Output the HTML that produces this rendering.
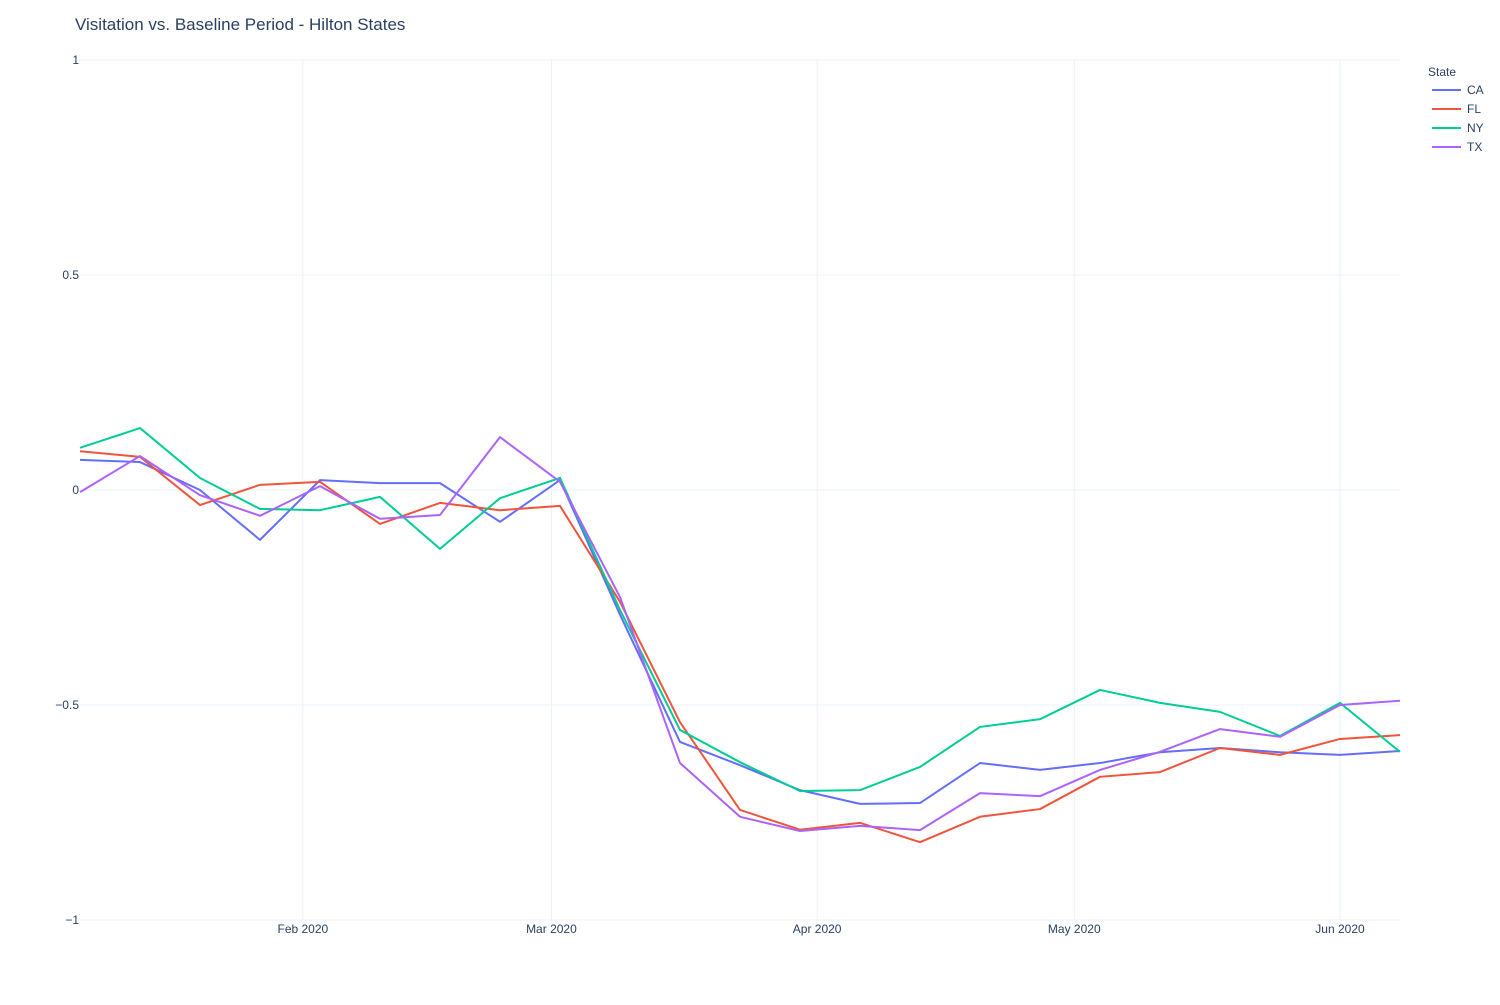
<!DOCTYPE html>
<html><head><meta charset="utf-8"><style>
body{margin:0;background:#fff;font-family:"Liberation Sans",Arial,sans-serif;}
svg text{font-family:"Liberation Sans",Arial,sans-serif;fill:#2a3f5f;}
</style></head><body>
<svg id="chart" width="1500" height="1000" xmlns="http://www.w3.org/2000/svg">
<rect width="1500" height="1000" fill="#fff"/>
<text x="75" y="30" font-size="17">Visitation vs. Baseline Period - Hilton States</text>
<g id="grid"></g><g id="series"></g><g id="axes"></g>
<g>
<text x="1428" y="76" font-size="12">State</text>
<g id="legend"></g>
</g>
</svg>
<script>
const states = ["CA","FL","NY","TX"];
const colors = ["#636efa","#EF553B","#00cc96","#ab63fa"];
const weekOffsets = [0,7,14,21,28,35,42,49,56,63,70,77,84,91,98,105,112,119,126,133,140,147,154]; // days since 2020-01-06
const caValues = [0.07,0.065,0,-0.116,0.023,0.016,0.016,-0.074,0.023,-0.29,-0.586,-0.64,-0.698,-0.73,-0.728,-0.635,-0.651,-0.635,-0.61,-0.6,-0.61,-0.616,-0.607];
const flValues = [0.09,0.077,-0.035,0.012,0.019,-0.079,-0.03,-0.047,-0.037,-0.26,-0.54,-0.744,-0.79,-0.774,-0.819,-0.76,-0.742,-0.667,-0.656,-0.6,-0.616,-0.579,-0.57];
const nyValues = [0.098,0.144,0.028,-0.044,-0.047,-0.016,-0.137,-0.019,0.028,-0.279,-0.558,-0.633,-0.7,-0.698,-0.644,-0.551,-0.533,-0.465,-0.495,-0.516,-0.572,-0.495,-0.609];
const txValues = [-0.005,0.079,-0.012,-0.06,0.009,-0.067,-0.058,0.123,0.019,-0.249,-0.635,-0.76,-0.793,-0.781,-0.791,-0.705,-0.712,-0.651,-0.609,-0.556,-0.574,-0.5,-0.49];
const yTicks = [1,0.5,0,-0.5,-1];
const yTickLabels = ["1","0.5","0","\u22120.5","\u22121"];
const xTickDays = [26,55,86,116,147];
const xTickLabels = ["Feb 2020","Mar 2020","Apr 2020","May 2020","Jun 2020"];
const series = [caValues,flValues,nyValues,txValues];

const X0=80,X1=1400,Y0=60,Y1=920;
const xs=d=>X0+(d-0)*(X1-X0)/154;
const ys=v=>Y0+(1-v)*(Y1-Y0)/2;
const NS="http://www.w3.org/2000/svg";
function mk(tag,parent){const e=document.createElementNS(NS,tag);parent.appendChild(e);return e;}
const grid=document.getElementById('grid'),axes=document.getElementById('axes'),sg=document.getElementById('series'),lg=document.getElementById('legend');
yTicks.forEach((t,i)=>{
  const l=mk('line',grid);
  
  
  l.setAttribute('x1',X0);l.setAttribute('x2',X1);l.setAttribute('y1',ys(t));l.setAttribute('y2',ys(t));
  l.setAttribute('stroke','#ebf0f8');l.setAttribute('stroke-width',1);
  const tx=mk('text',axes);
  
  
  tx.setAttribute('x',X0-1);tx.setAttribute('y',ys(t)+4);tx.setAttribute('text-anchor','end');tx.setAttribute('font-size','12');
  tx.textContent=yTickLabels[i];
});
xTickDays.forEach((d,i)=>{
  const l=mk('line',grid);
  
  
  l.setAttribute('x1',xs(d));l.setAttribute('x2',xs(d));l.setAttribute('y1',Y0);l.setAttribute('y2',Y1);
  l.setAttribute('stroke','#ebf0f8');l.setAttribute('stroke-width',1);
  const tx=mk('text',axes);
  
  
  tx.setAttribute('x',xs(d));tx.setAttribute('y',Y1+13);tx.setAttribute('text-anchor','middle');tx.setAttribute('font-size','12');
  tx.textContent=xTickLabels[i];
});
series.forEach((vals,k)=>{
  const p=mk('polyline',sg);
  
  
  p.setAttribute('points',vals.map((v,i)=>xs(weekOffsets[i])+','+ys(v)).join(' '));
  p.setAttribute('fill','none');p.setAttribute('stroke',colors[k]);p.setAttribute('stroke-width',2);p.setAttribute('stroke-linejoin','round');
  const y=90+k*19;
  const g=mk('g',lg);
  
  
  const l=mk('line',g);
  l.setAttribute('x1',1432);l.setAttribute('x2',1461);l.setAttribute('y1',y);l.setAttribute('y2',y);
  l.setAttribute('stroke',colors[k]);l.setAttribute('stroke-width',2);
  const t=mk('text',g);
  t.setAttribute('x',1467);t.setAttribute('y',y+4);t.setAttribute('font-size','12');
  t.textContent=states[k];
});
</script>
</body></html>
